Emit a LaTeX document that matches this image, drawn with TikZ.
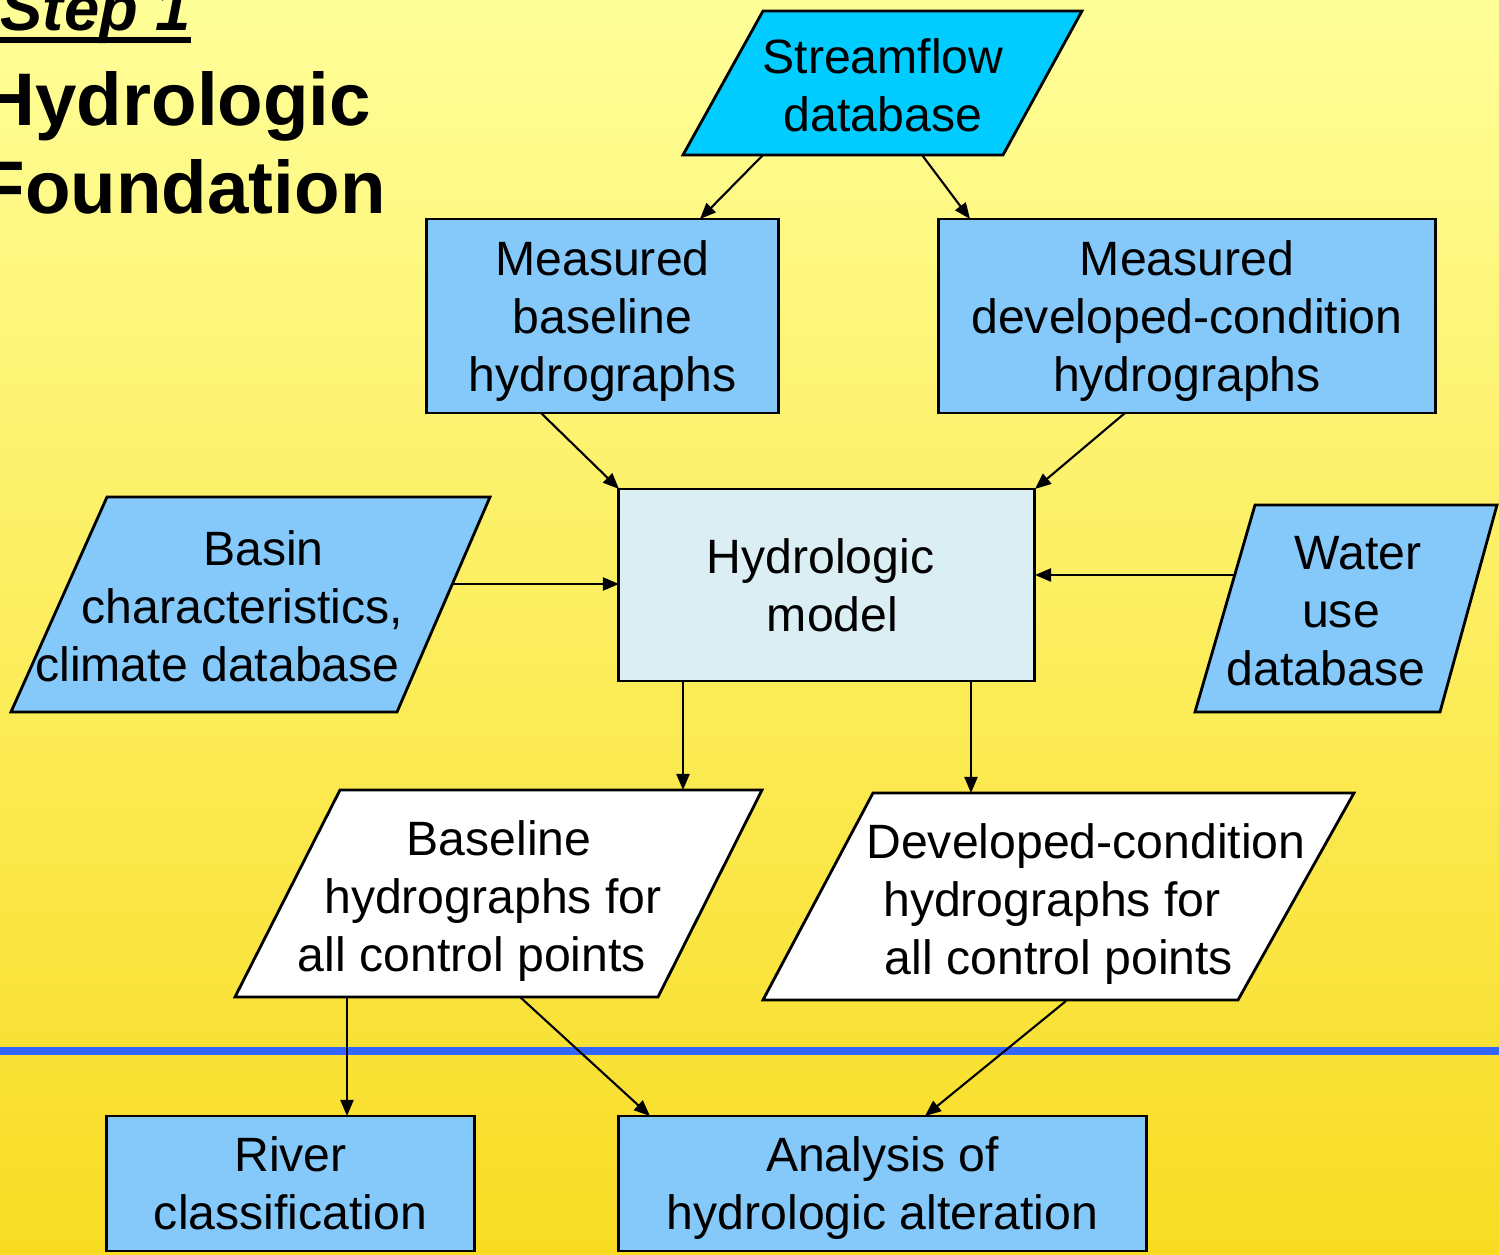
\documentclass[tikz,border=0pt]{standalone}
\usepackage{fontspec}
\setmainfont{Liberation Sans}
\usetikzlibrary{arrows.meta}
\definecolor{bgtop}{RGB}{255,255,153}
\definecolor{bgbot}{RGB}{248,220,35}
\definecolor{boxblue}{RGB}{133,200,250}
\definecolor{streamcyan}{RGB}{0,204,255}
\definecolor{modelfill}{RGB}{218,238,243}
\definecolor{ruleblue}{RGB}{51,102,255}
% shift one line of a centred node sideways without changing its width
\newcommand{\nudge}[2]{\mbox{\hspace*{#1}#2\hspace*{-#1}}}
\begin{document}
\begin{tikzpicture}[x=0.01cm, y=-0.01cm,
        every node/.style={font=\fontsize{13.7}{16.5}\selectfont, align=center, inner sep=0pt},
        box/.style={draw, line width=0.8pt, fill=boxblue},
        flow/.style={-{Triangle[length=1.6mm, width=1.3mm]}, line width=0.6pt}]
        \shade[top color=bgtop, bottom color=bgbot] (0,0) rectangle (1499,1255);
        \useasboundingbox (0,0) rectangle (1499,1255);
        \draw[ruleblue, line width=0.8mm] (0,1051) -- (1499,1051);
        % title
        \node[anchor=base west, font=\fontsize{18}{20}\selectfont\bfseries\itshape] (step) at (0,31) {Step 1};
        \draw[line width=0.6mm] ([yshift=-0.9mm]step.base west) -- ([yshift=-0.9mm]step.base east);
        \node[anchor=base west, font=\fontsize{21.2}{25}\selectfont\bfseries] (hydro) at (-19,126) {Hydrologic};
        \node[anchor=base west, font=\fontsize{21.2}{25}\selectfont\bfseries] (found) at (-21,214) {Foundation};
        % data inputs
        \draw[box, fill=streamcyan] (763,11) -- (1082,11) -- (1003,155) -- (683,155) -- cycle;
        \node (stream) at (883,85) {Streamflow\\database};
        \draw[box] (107,497) -- (490,497) -- (397,712) -- (11,712) -- cycle;
        \node (basin) at (242,606) {\nudge{0.215cm}{Basin}\\\nudge{0.005cm}{characteristics,}\\\nudge{-0.245cm}{climate database}};
        \draw[box] (1255,505) -- (1497,505) -- (1440,712) -- (1195,712) -- cycle;
        \node (water) at (1342,611) {\nudge{0.16cm}{Water}\\\nudge{-0.01cm}{use}\\\nudge{-0.16cm}{database}};
        % measured hydrographs and model
        \node[box, minimum width=3.51cm, minimum height=1.94cm, text depth=0pt] (mbase) at (602.5,316) {Measured\\baseline\\hydrographs};
        \node[box, minimum width=4.96cm, minimum height=1.94cm, text depth=0pt] (mdev) at (1187,316) {Measured\\developed-condition\\hydrographs};
        \node[box, fill=modelfill, minimum width=4.15cm, minimum height=1.92cm] (model) at (826.5,585) {\nudge{-0.06cm}{Hydrologic}\\\nudge{0.06cm}{model}};
        % simulated hydrographs
        \draw[fill=white, line width=0.8pt] (340,790) -- (762,790) -- (658,997) -- (235,997) -- cycle;
        \node (sbase) at (488,901) {\nudge{0.11cm}{Baseline}\\\nudge{0.05cm}{hydrographs for}\\\nudge{-0.16cm}{all control points}};
        \draw[fill=white, line width=0.8pt] (873,793) -- (1354,793) -- (1238,1000) -- (763,1000) -- cycle;
        \node (sdev) at (1066,904) {\nudge{0.2cm}{Developed-condition}\\\nudge{-0.14cm}{hydrographs for}\\\nudge{-0.07cm}{all control points}};
        % results
        \node[box, minimum width=3.67cm, minimum height=1.35cm] (river) at (290.5,1183.5) {River\\classification};
        \node[box, minimum width=5.27cm, minimum height=1.35cm, text depth=0pt] (iha) at (882.5,1183.5) {Analysis of\\hydrologic alteration};
        % connector ends
        \coordinate (streamL) at (763,155);
        \coordinate (streamR) at (922,155);
        \coordinate (mbaseT) at (700,219);
        \coordinate (mdevT) at (970,219);
        \coordinate (mbaseB) at (541,413);
        \coordinate (mdevB) at (1125,413);
        \coordinate (modelTL) at (619,489);
        \coordinate (modelTR) at (1035,489);
        \coordinate (basinR) at (452,584);
        \coordinate (modelL) at (619,584);
        \coordinate (waterL) at (1235,575);
        \coordinate (modelR) at (1035,575);
        \coordinate (modelBL) at (683,681);
        \coordinate (modelBR) at (971,681);
        \coordinate (sbaseT) at (683,790);
        \coordinate (sdevT) at (971,793);
        \coordinate (sbaseBL) at (347,997);
        \coordinate (sbaseBR) at (520,997);
        \coordinate (sdevB) at (1066,1001);
        \coordinate (riverT) at (347,1116);
        \coordinate (ihaTL) at (650,1116);
        \coordinate (ihaTR) at (925,1116);
        \draw[flow] (streamL) -- (mbaseT);
        \draw[flow] (streamR) -- (mdevT);
        \draw[flow] (mbaseB) -- (modelTL);
        \draw[flow] (mdevB) -- (modelTR);
        \draw[flow] (basinR) -- (modelL);
        \draw[flow] (waterL) -- (modelR);
        \draw[flow] (modelBL) -- (sbaseT);
        \draw[flow] (modelBR) -- (sdevT);
        \draw[flow] (sbaseBL) -- (riverT);
        \draw[flow] (sbaseBR) -- (ihaTL);
        \draw[flow] (sdevB) -- (ihaTR);
    \end{tikzpicture}
\end{document}
